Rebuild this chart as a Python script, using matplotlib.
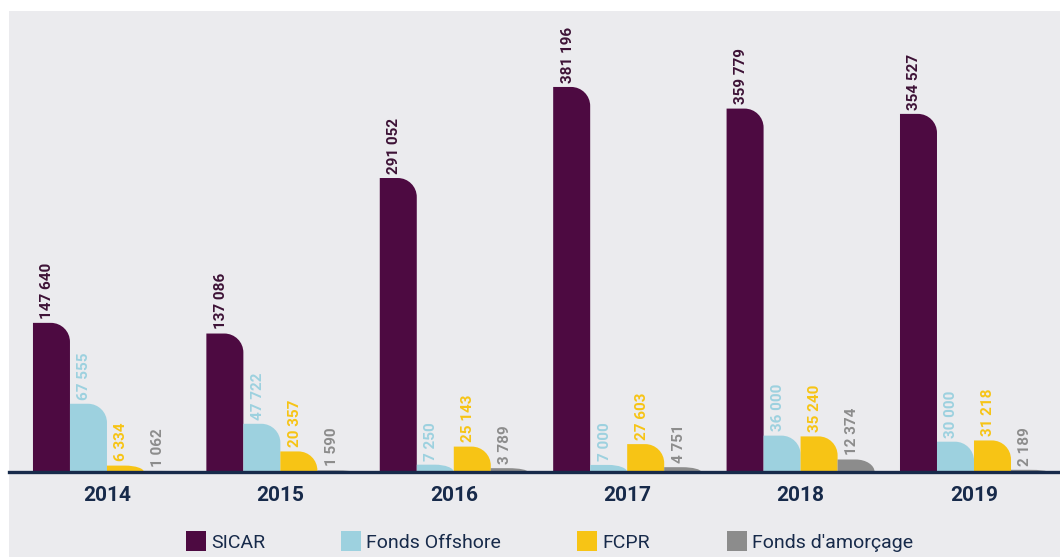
import matplotlib.pyplot as plt
import numpy as np
from matplotlib.path import Path
from matplotlib.patches import PathPatch, Rectangle

plt.rcParams['font.family'] = ['Roboto', 'DejaVu Sans']

annees = ['2014', '2015', '2016', '2017', '2018', '2019']
series = ['SICAR', 'Fonds Offshore', 'FCPR', "Fonds d'amorçage"]
sicar = [147640, 137086, 291052, 381196, 359779, 354527]
offshore = [67555, 47722, 7250, 7000, 36000, 30000]
fcpr = [6334, 20357, 25143, 27603, 35240, 31218]
amorcage = [1062, 1590, 3789, 4751, 12374, 2189]

couleurs = ['#4d0a41', '#9dd1df', '#f7c415', '#8c8c8c']
couleurs_texte = ['#3d1236', '#9dd1df', '#f7c415', '#8c8c8c']
fond = '#ebebee'
bleu_nuit = '#172a4a'

W, H = 1060, 557
fig = plt.figure(figsize=(W / 100, H / 100), dpi=100)
fig.patch.set_facecolor('white')
# fond gris (derrière les axes)
fig.patches.append(Rectangle((9 / W, 0), 1 - 9 / W, (H - 11) / H, transform=fig.transFigure,
                             facecolor=fond, edgecolor='none', zorder=-1))

ax_l, ax_b = 9 / W, (H - 472) / H
ax_w, ax_h = 1 - ax_l, (472 - 11) / H
ax = fig.add_axes([ax_l, ax_b, ax_w, ax_h])
ax.set_facecolor('none')

xlim = (-0.565, 5.496)
ylim = (0, 456400)
ax.set_xlim(*xlim)
ax.set_ylim(*ylim)

px_x = ax_w * W / (xlim[1] - xlim[0])   # pixels par unité x
px_y = ax_h * H / (ylim[1] - ylim[0])   # pixels par unité y

largeur = 0.2134
rayon_px = 19
k = 0.5523


def barre_arrondie(x0, w, h, couleur):
    """Barre avec le coin supérieur droit arrondi."""
    rx = rayon_px / px_x
    ry = min(rayon_px / px_y, h)
    verts = [(x0, 0), (x0, h), (x0 + w - rx, h),
             (x0 + w - rx + k * rx, h), (x0 + w, h - ry + k * ry), (x0 + w, h - ry),
             (x0 + w, 0), (x0, 0)]
    codes = [Path.MOVETO, Path.LINETO, Path.LINETO,
             Path.CURVE4, Path.CURVE4, Path.CURVE4,
             Path.LINETO, Path.CLOSEPOLY]
    ax.add_patch(PathPatch(Path(verts, codes), facecolor=couleur, edgecolor='none', zorder=2))


x = np.arange(len(annees))
for i, valeurs in enumerate([sicar, offshore, fcpr, amorcage]):
    for j, v in enumerate(valeurs):
        x0 = x[j] - 2 * largeur + i * largeur
        barre_arrondie(x0, largeur, v, couleurs[i])
        ax.annotate(f"{v:,}".replace(',', ' '), (x0 + largeur / 2, v),
                    xytext=(-3, 3), textcoords='offset points', rotation=90,
                    ha='center', va='bottom', fontsize=11, fontweight='bold',
                    color=couleurs_texte[i])

ax.axhline(0, color=bleu_nuit, lw=2.4, zorder=5, clip_on=False)

ax.set_xticks(x, annees)
ax.tick_params(axis='x', length=0, pad=10, labelsize=15, labelcolor=bleu_nuit)
for lbl in ax.get_xticklabels():
    lbl.set_fontweight('bold')
ax.set_yticks([])
for s in ax.spines.values():
    s.set_visible(False)

# légende manuelle
leg_x = [186, 341, 577, 727]
for xi, nom, c in zip(leg_x, series, couleurs):
    fig.patches.append(Rectangle((xi / W, (H - 551) / H), 20 / W, 20 / H,
                                 transform=fig.transFigure, facecolor=c, edgecolor='none'))
    fig.text((xi + 25) / W, (H - 543) / H, nom, fontsize=14, color=bleu_nuit,
             va='center', ha='left')

fig.savefig('out.png', dpi=100, facecolor=fig.get_facecolor())
